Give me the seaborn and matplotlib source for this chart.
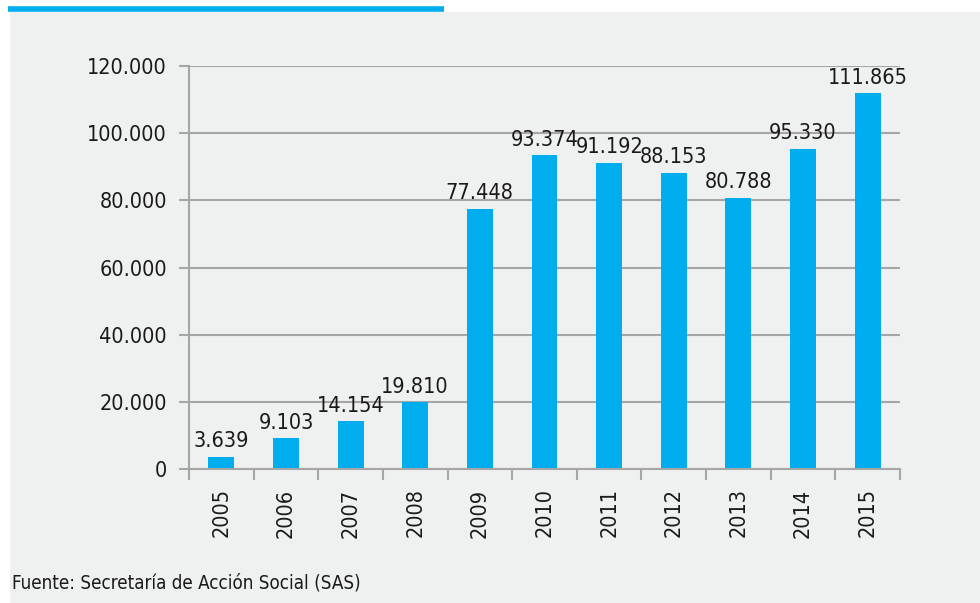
import matplotlib
matplotlib.use('Agg')
import matplotlib.pyplot as plt
import seaborn as sns
import pandas as pd
import numpy as np
from matplotlib.patches import Rectangle
from matplotlib.lines import Line2D

years = ['2005', '2006', '2007', '2008', '2009', '2010', '2011', '2012', '2013', '2014', '2015']
values = [3639, 9103, 14154, 19810, 77448, 93374, 91192, 88153, 80788, 95330, 111865]
yticks = [0, 20000, 40000, 60000, 80000, 100000, 120000]

BAR = '#00aeef'
PANEL = '#eff0f0'
GRID = '#a6a6a6'

sns.set_theme(style='white')
plt.rcParams['font.family'] = ['DejaVu Sans']
plt.rcParams['font.stretch'] = 'condensed'
plt.rcParams['text.color'] = '#1a1a1a'
plt.rcParams['xtick.color'] = '#1a1a1a'
plt.rcParams['ytick.color'] = '#1a1a1a'

def fmt(v):
    return f"{v:,}".replace(',', '.')

df = pd.DataFrame({'year': years, 'value': values})

fig = plt.figure(figsize=(9.8, 6.03), dpi=100)
fig.patch.set_facecolor('white')
# grey panel and blue header line
fig.add_artist(Rectangle((10 / 980, 0), 1, 1 - 12 / 603, transform=fig.transFigure,
                         facecolor=PANEL, edgecolor='none', zorder=0))
fig.add_artist(Line2D([8 / 980, 444 / 980], [1 - 9 / 603] * 2, transform=fig.transFigure,
                      color=BAR, lw=4, solid_capstyle='butt'))

ax = fig.add_axes([189 / 980, 1 - 469 / 603, 711 / 980, 403 / 603])
ax.set_facecolor(PANEL)
sns.barplot(data=df, x='year', y='value', color=BAR, width=0.4, ax=ax, saturation=1, linewidth=0)

ax.set_ylim(0, 120000)
ax.set_xlim(-0.5, len(years) - 0.5)
ax.set_yticks(yticks)
ax.set_yticklabels([fmt(t) for t in yticks], fontsize=15.5)
ax.yaxis.grid(True, color=GRID, lw=1.5)
ax.set_axisbelow(True)

for s in ['top', 'right']:
    ax.spines[s].set_visible(False)
for s in ['left', 'bottom']:
    ax.spines[s].set_color(GRID)
    ax.spines[s].set_linewidth(1.5)

ax.tick_params(axis='y', length=7, width=1.5, color=GRID, left=True, pad=9)
ax.set_xticks(np.arange(len(years)))
ax.set_xticklabels(years, rotation=90, fontsize=15.5)
ax.tick_params(axis='x', length=0, pad=14)
ax.set_xticks(np.arange(len(years) + 1) - 0.5, minor=True)
ax.tick_params(axis='x', which='minor', length=8, width=1.5, color=GRID, bottom=True)

ax.bar_label(ax.containers[0], labels=[fmt(v) for v in values], fontsize=15.5, padding=4)
ax.set_xlabel('')
ax.set_ylabel('')

fig.text(12 / 980, 1 - 583 / 603, 'Fuente: Secretaría de Acción Social (SAS)', fontsize=13.5,
         va='center', ha='left')

fig.savefig('out.png', dpi=100, facecolor=fig.get_facecolor())
